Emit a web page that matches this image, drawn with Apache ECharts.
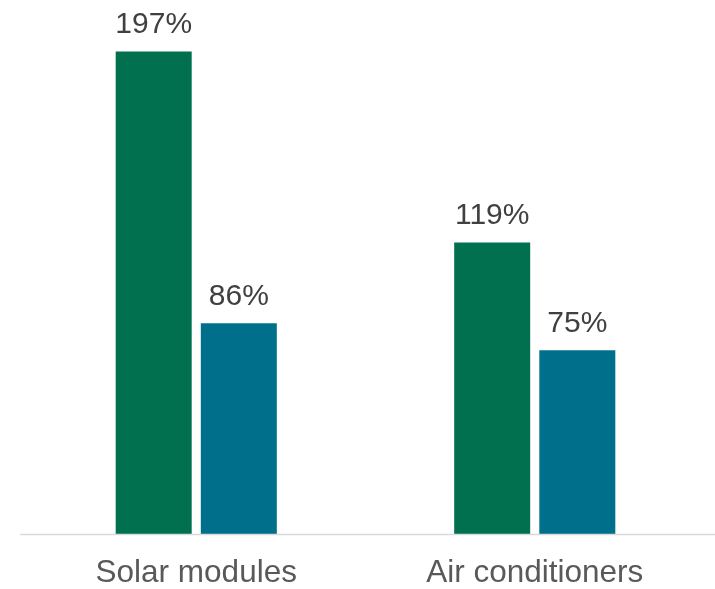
<!DOCTYPE html>
<html>
<head>
<meta charset="utf-8">
<script src="https://cdn.jsdelivr.net/npm/echarts@6/dist/echarts.min.js"></script>
<style>
  html, body { margin: 0; padding: 0; background: #fff; }
  #chart { width: 715px; height: 589px; }
</style>
</head>
<body>
<div id="chart"></div>
<script>
// Product categories and the two percentage series
const categories = ['Solar modules', 'Air conditioners'];
const seriesA = [197, 119];
const seriesB = [86, 75];

const chart = echarts.init(document.getElementById('chart'));

const FONT = '"Liberation Sans", Arial, sans-serif';

const labelStyle = {
  show: true,
  position: 'top',
  distance: 12,
  formatter: p => p.value + '%',
  fontFamily: FONT,
  fontSize: 30,
  color: '#404040'
};

chart.setOption({
  animation: false,
  grid: { left: 27, right: 11, top: 0, bottom: 55, containLabel: false },
  xAxis: {
    type: 'category',
    data: categories,
    axisLine: { show: false },
    axisTick: { show: false },
    axisLabel: {
      fontFamily: FONT,
      fontSize: 31.5,
      color: '#595959',
      margin: 23
    }
  },
  yAxis: {
    type: 'value',
    min: 0,
    max: 218,
    show: false
  },
  series: [
    {
      type: 'bar',
      data: seriesA,
      barWidth: 76,
      barGap: '12%',
      itemStyle: { color: '#00704f' },
      label: labelStyle
    },
    {
      type: 'bar',
      data: seriesB,
      barWidth: 76,
      itemStyle: { color: '#006f8c' },
      label: labelStyle
    }
  ],
  graphic: [
    {
      type: 'line',
      shape: { x1: 20, y1: 534.5, x2: 715, y2: 534.5 },
      style: { stroke: '#d9d9d9', lineWidth: 1.5 },
      z: 10
    }
  ]
});
</script>
</body>
</html>
